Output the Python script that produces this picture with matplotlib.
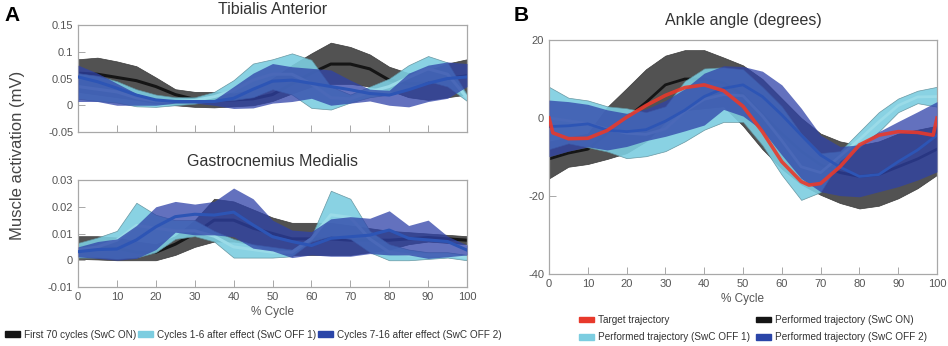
import numpy as np
import matplotlib
matplotlib.use("Agg")
import matplotlib.pyplot as plt
from matplotlib.patches import Patch
from matplotlib.ticker import FixedLocator

plt.rcParams['font.family'] = ['Liberation Sans', 'DejaVu Sans']
plt.rcParams['axes.unicode_minus'] = False

# % gait cycle
cycle = np.arange(0, 101, 5)

# Tibialis anterior (mV): mean, upper and lower band edges
ta_on_mean = [0.06, 0.058, 0.052, 0.046, 0.035, 0.02, 0.011, 0.01, 0.01, 0.012, 0.02,
              0.04, 0.06, 0.077, 0.077, 0.068, 0.047, 0.04, 0.042, 0.05, 0.055]
ta_on_up = [0.086, 0.089, 0.082, 0.073, 0.052, 0.03, 0.025, 0.025, 0.022, 0.03, 0.05,
            0.075, 0.097, 0.117, 0.109, 0.095, 0.072, 0.06, 0.065, 0.078, 0.086]
ta_on_lo = [0.025, 0.02, 0.015, 0.01, 0.004, 0.0, -0.003, -0.004, -0.002, 0.0, 0.008,
            0.022, 0.035, 0.04, 0.04, 0.035, 0.028, 0.015, 0.01, 0.015, 0.02]
ta_off1_mean = [0.035, 0.03, 0.025, 0.014, 0.008, 0.007, 0.009, 0.016, 0.028, 0.047, 0.058,
                0.058, 0.04, 0.014, 0.012, 0.025, 0.035, 0.052, 0.068, 0.058, 0.014]
ta_off1_up = [0.06, 0.055, 0.045, 0.03, 0.02, 0.015, 0.015, 0.025, 0.047, 0.078, 0.086,
              0.097, 0.085, 0.035, 0.02, 0.035, 0.05, 0.075, 0.092, 0.08, 0.02]
ta_off1_lo = [0.012, 0.008, 0.005, -0.002, -0.003, 0.0, 0.003, 0.008, 0.01, 0.015, 0.03,
              0.02, -0.005, -0.008, 0.005, 0.015, 0.02, 0.03, 0.045, 0.035, 0.008]
ta_off2_mean = [0.053, 0.044, 0.032, 0.019, 0.01, 0.007, 0.007, 0.007, 0.013, 0.03, 0.045,
                0.047, 0.041, 0.035, 0.029, 0.022, 0.019, 0.029, 0.041, 0.05, 0.053]
ta_off2_up = [0.075, 0.06, 0.041, 0.022, 0.011, 0.007, 0.007, 0.01, 0.035, 0.06, 0.078,
              0.072, 0.069, 0.066, 0.047, 0.03, 0.028, 0.06, 0.075, 0.081, 0.078]
ta_off2_lo = [0.007, 0.007, 0.0, 0.0, 0.0, 0.004, 0.004, 0.0, -0.006, -0.005, 0.004,
              0.007, 0.013, 0.0, 0.004, 0.008, 0.0, -0.003, 0.007, 0.013, 0.035]

# Gastrocnemius medialis (mV)
gm_on_mean = [0.005, 0.005, 0.0045, 0.003, 0.003, 0.006, 0.01, 0.015, 0.015, 0.012, 0.01,
              0.008, 0.008, 0.008, 0.0075, 0.0075, 0.0075, 0.008, 0.0085, 0.008, 0.0075]
gm_on_up = [0.009, 0.009, 0.0085, 0.007, 0.006, 0.009, 0.015, 0.023, 0.022, 0.019, 0.016,
            0.014, 0.014, 0.014, 0.013, 0.012, 0.011, 0.0105, 0.01, 0.0095, 0.009]
gm_on_lo = [0.0005, 0.0003, 0.0, 0.0, 0.0, 0.002, 0.005, 0.007, 0.007, 0.006, 0.003,
            0.002, 0.002, 0.002, 0.002, 0.003, 0.004, 0.006, 0.007, 0.0065, 0.006]
gm_off1_mean = [0.004, 0.005, 0.0075, 0.013, 0.012, 0.011, 0.011, 0.009, 0.005, 0.004, 0.003,
                0.003, 0.008, 0.017, 0.016, 0.008, 0.003, 0.002, 0.002, 0.002, 0.001]
gm_off1_up = [0.0065, 0.0085, 0.011, 0.0215, 0.017, 0.015, 0.015, 0.011, 0.008, 0.006, 0.005,
              0.004, 0.009, 0.026, 0.023, 0.011, 0.006, 0.004, 0.003, 0.003, 0.002]
gm_off1_lo = [0.001, 0.001, 0.0005, 0.001, 0.003, 0.008, 0.009, 0.007, 0.001, 0.001, 0.001,
              0.0015, 0.007, 0.009, 0.008, 0.003, 0.0, 0.0, 0.0005, 0.001, 0.0]
gm_off2_mean = [0.0032, 0.004, 0.0042, 0.0076, 0.0125, 0.0163, 0.0172, 0.0169, 0.018, 0.0132, 0.0088,
                0.007, 0.0055, 0.0082, 0.0088, 0.0094, 0.0113, 0.0082, 0.0076, 0.007, 0.0038]
gm_off2_up = [0.005, 0.007, 0.008, 0.013, 0.02, 0.022, 0.021, 0.022, 0.027, 0.023, 0.015,
              0.0113, 0.0107, 0.0155, 0.0163, 0.0157, 0.0185, 0.013, 0.015, 0.009, 0.0057]
gm_off2_lo = [0.0013, 0.0007, 0.0, 0.0007, 0.004, 0.0105, 0.0095, 0.0095, 0.0088, 0.0045, 0.0035,
              0.001, 0.002, 0.0015, 0.0015, 0.0025, 0.002, 0.002, 0.0007, 0.0013, 0.002]

# Ankle angle (degrees)
ank_on_mean = [-10.5, -9, -8, -4, 0, 4, 8.5, 10, 10, 9, 6, 1, -4, -8.5, -12, -14, -15,
               -14.5, -12.5, -10.5, -8]
ank_on_up = [-6, -5, -4, 2.8, 7.6, 12.5, 16, 17.4, 17.4, 15.5, 13.5, 10, 5, 0, -4, -6, -7,
             -6, -4, -3, -2]
ank_on_lo = [-15.5, -12.5, -11.8, -10.5, -9, -6, -1, 2, 2.5, 3, -2, -8, -13, -17, -19.7,
             -21.8, -23.2, -22.5, -20.6, -18, -14.6]
ank_off1_mean = [0, -0.7, -1.5, -2.8, -3.9, -4.2, -2.8, 1.7, 4.8, 6, 5.7, 0.5, -5.8, -12.5,
                 -14, -9.8, -5.5, -1, 3.2, 5.4, 5.5]
ank_off1_up = [8, 5.2, 4.5, 3, 2.5, 1.5, 3, 9.5, 12.7, 13, 12.5, 8, 3, -4, -9, -8.5, -3.5,
               1.5, 5, 7, 8]
ank_off1_lo = [-8, -6.5, -7.5, -8.6, -10.3, -9.8, -8.5, -6, -3, -1, -1, -7, -14.6, -21, -19,
               -11, -7.5, -3.5, 1.5, 3.8, 2.9]
ank_off2_mean = [-2.2, -2.0, -1.5, -3.1, -3.5, -3.0, -0.8, 2.0, 5.5, 7.6, 8.5, 5.5, 0.8, -4.4,
                 -9.5, -12.6, -15, -14.5, -11.2, -8.2, -4.4]
ank_off2_up = [4.6, 4.2, 3.5, 2.1, 1.2, 2.3, 4.5, 7.5, 11.5, 13.4, 13.2, 12, 8.5, 2.5, -4.4,
               -7.3, -6.9, -3.5, -0.9, 1.6, 4.2]
ank_off2_lo = [-9.9, -8.5, -7.4, -8.2, -7.3, -5.8, -4.7, -3.3, -1.8, 2.2, 0.5, -3.2, -9.5,
               -15.5, -18.9, -19.9, -20.2, -18.9, -17.6, -15.9, -13.8]

target_x = [0, 1, 5, 10, 15, 20, 25, 30, 35, 40, 45, 50, 55, 60, 65, 67, 70, 75, 80, 85,
            90, 95, 99, 100]
target_y = [0, -3.8, -5.3, -5.2, -3.2, 0.2, 3.2, 5.8, 7.8, 8.5, 7.0, 3.0, -3.5, -11.2, -16.3,
            -17.2, -16.8, -12.5, -6.9, -4.4, -3.5, -3.7, -4.4, 0]

grey_c = '#525252'
cyan_c = '#7ccde0'
blue_c = '#2f42a8'
blue_line = '#2d55b5'
red_c = '#e8392b'
text_c = '#555555'
spine_c = '#a8a8a8'


def style(ax, ylim, yticks, ylabels, show_x=True):
    ax.set_xlim(0, 100)
    ax.set_ylim(*ylim)
    ax.xaxis.set_major_locator(FixedLocator(range(0, 101, 10)))
    ax.yaxis.set_major_locator(FixedLocator(yticks))
    ax.set_yticklabels(ylabels)
    if not show_x:
        ax.set_xticklabels([])
    ax.tick_params(direction='in', length=5, width=0.7, colors=spine_c,
                   labelcolor=text_c, labelsize=8, top=False, right=False)
    for s in ax.spines.values():
        s.set_color(spine_c)
        s.set_linewidth(0.9)


def bands(ax, on, off1, off2, lw):
    ax.fill_between(cycle, on[1], on[2], color=grey_c, ec='#3a3a3a', lw=0.5, zorder=1)
    ax.plot(cycle, on[0], color='#151515', lw=lw, zorder=1.5)
    ax.fill_between(cycle, off1[1], off1[2], color=cyan_c, ec='#5f8f9a', lw=0.5,
                    alpha=0.9, zorder=2)
    ax.plot(cycle, off1[0], color='#9adbe8', lw=lw, zorder=2.5)
    ax.fill_between(cycle, off2[1], off2[2], color=blue_c, lw=0, alpha=0.75, zorder=3)
    ax.plot(cycle, off2[0], color=blue_line, lw=lw, zorder=3.5)


fig = plt.figure(figsize=(9.48, 3.46), dpi=100)

ax1 = fig.add_axes([0.0823, 0.6185, 0.4103, 0.3092])
bands(ax1, (ta_on_mean, ta_on_up, ta_on_lo), (ta_off1_mean, ta_off1_up, ta_off1_lo),
      (ta_off2_mean, ta_off2_up, ta_off2_lo), 2.2)
style(ax1, (-0.05, 0.15), [-0.05, 0, 0.05, 0.1, 0.15], ['-0.05', '0', '0.05', '0.1', '0.15'],
      show_x=False)
ax1.set_title('Tibialis Anterior', fontsize=11.5, color='#333333', pad=8)

ax2 = fig.add_axes([0.0823, 0.1705, 0.4103, 0.3092])
bands(ax2, (gm_on_mean, gm_on_up, gm_on_lo), (gm_off1_mean, gm_off1_up, gm_off1_lo),
      (gm_off2_mean, gm_off2_up, gm_off2_lo), 2.2)
style(ax2, (-0.01, 0.03), [-0.01, 0, 0.01, 0.02, 0.03], ['-0.01', '0', '0.01', '0.02', '0.03'])
ax2.set_title('Gastrocnemius Medialis', fontsize=11.5, color='#333333', pad=10)
ax2.set_xlabel('% Cycle', fontsize=8.5, color=text_c, labelpad=3)

ax3 = fig.add_axes([0.5791, 0.2081, 0.4093, 0.6763])
bands(ax3, (ank_on_mean, ank_on_up, ank_on_lo), (ank_off1_mean, ank_off1_up, ank_off1_lo),
      (ank_off2_mean, ank_off2_up, ank_off2_lo), 2.0)
ax3.plot(target_x, target_y, color=red_c, lw=2.6, alpha=0.9, zorder=4)
style(ax3, (-40, 20), [-40, -20, 0, 20], ['-40', '-20', '0', '20'])
ax3.set_title('Ankle angle (degrees)', fontsize=11.5, color='#333333', pad=11)
ax3.set_xlabel('% Cycle', fontsize=8.5, color=text_c, labelpad=3)

fig.text(0.018, 0.55, 'Muscle activation (mV)', rotation=90, ha='center', va='center',
         fontsize=12, color='#444444')
fig.text(0.013, 0.955, 'A', fontsize=15, fontweight='bold', ha='center', va='center')
fig.text(0.55, 0.955, 'B', fontsize=15, fontweight='bold', ha='center', va='center')

leg_a = [Patch(color='#151515', label='First 70 cycles (SwC ON)'),
         Patch(color=cyan_c, label='Cycles 1-6 after effect (SwC OFF 1)'),
         Patch(color='#2a45a8', label='Cycles 7-16 after effect (SwC OFF 2)')]
fig.legend(handles=leg_a, loc='center left', bbox_to_anchor=(-0.004, 0.033), ncol=3,
           frameon=False, fontsize=7.2, handlelength=1.5, handleheight=0.5,
           handletextpad=0.4, columnspacing=0.15, labelcolor='#333333')

leg_b = [Patch(color=red_c, label='Target trajectory'),
         Patch(color=cyan_c, label='Performed trajectory (SwC OFF 1)'),
         Patch(color='#151515', label='Performed trajectory (SwC ON)'),
         Patch(color='#2a45a8', label='Performed trajectory (SwC OFF 2)')]
fig.legend(handles=leg_b, loc='center left', bbox_to_anchor=(0.601, 0.05), ncol=2,
           frameon=False, fontsize=7.2, handlelength=1.5, handleheight=0.5,
           handletextpad=0.4, columnspacing=0.6, labelspacing=0.75, labelcolor='#333333')

fig.savefig('out.png', dpi=100)
